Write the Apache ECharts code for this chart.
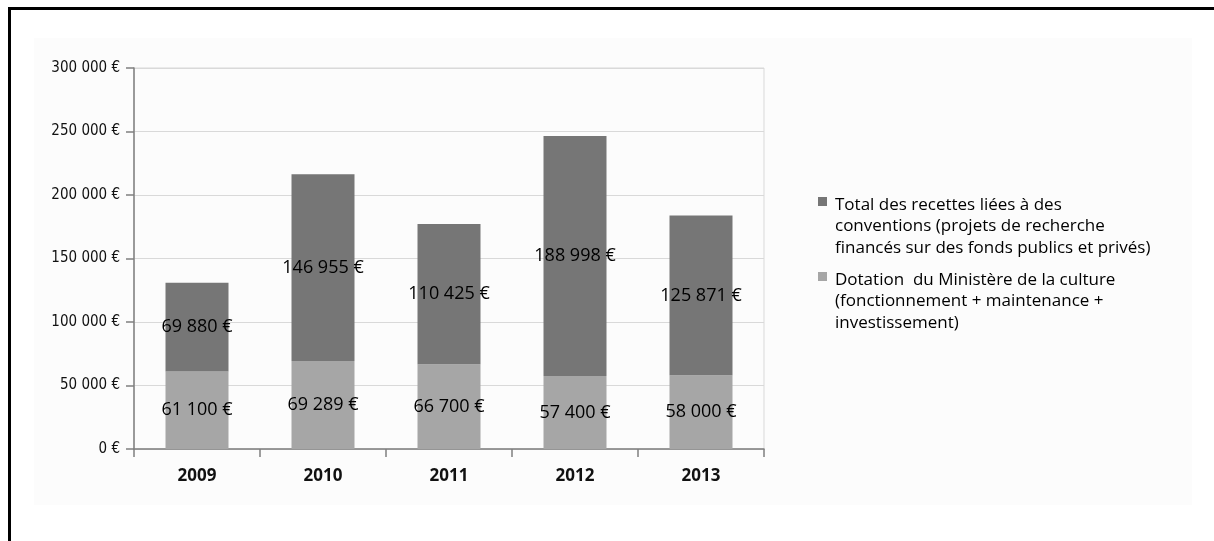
<!DOCTYPE html>
<html>
<head>
<meta charset="utf-8">
<script src="https://cdn.jsdelivr.net/npm/echarts@6/dist/echarts.min.js"></script>
<style>
  html, body { margin: 0; padding: 0; background: #fff; }
  #chart { width: 1214px; height: 541px; }
</style>
</head>
<body>
<div id="chart"></div>
<script>
// data
const years = ['2009', '2010', '2011', '2012', '2013'];
const dotation = [61100, 69289, 66700, 57400, 58000];
const conventions = [69880, 146955, 110425, 188998, 125871];
const legendNames = [
    'Total des recettes liées à des\nconventions (projets de recherche\nfinancés sur des fonds publics et privés)',
    'Dotation  du Ministère de la culture\n(fonctionnement + maintenance +\ninvestissement)'
];
const colors = ['#767676', '#a6a6a6'];

function euro(v) {
    return String(v).replace(/\B(?=(\d{3})+(?!\d))/g, ' ') + ' €';
}

const font = '"Open Sans", "DejaVu Sans", sans-serif';
const chart = echarts.init(document.getElementById('chart'));

const barLabel = {
    show: true,
    position: 'inside',
    color: '#000',
    fontFamily: font,
    fontSize: 18,
    formatter: p => euro(p.value)
};

// legend drawn by hand so the marker sits on the first line
const legendGraphics = [];
const legendTop = [197, 272];
legendNames.forEach((name, i) => {
    legendGraphics.push({
        type: 'rect',
        shape: { x: 818, y: legendTop[i], width: 9, height: 9 },
        style: { fill: colors[i] }
    });
    legendGraphics.push({
        type: 'text',
        x: 835,
        y: legendTop[i] - 3,
        style: {
            text: name,
            fill: '#000',
            font: '17px ' + font,
            lineHeight: 21.5
        }
    });
});

chart.setOption({
    animation: false,
    backgroundColor: '#fff',
    grid: {
        left: 134, right: 450, top: 68, bottom: 92,
        show: true,
        borderColor: '#d9d9d9',
        borderWidth: 1,
        backgroundColor: 'transparent'
    },
    xAxis: {
        type: 'category',
        data: years,
        axisLine: { lineStyle: { color: '#7f7f7f', width: 1.5 } },
        axisTick: { show: true, length: 8, lineStyle: { color: '#7f7f7f', width: 1.5 } },
        axisLabel: {
            color: '#111',
            fontFamily: font,
            fontWeight: 'bold',
            fontSize: 17,
            margin: 19
        }
    },
    yAxis: {
        type: 'value',
        min: 0,
        max: 300000,
        interval: 50000,
        axisLine: { show: true, lineStyle: { color: '#7f7f7f', width: 1.5 } },
        axisTick: { show: true, length: 8, lineStyle: { color: '#7f7f7f', width: 1.5 } },
        splitLine: { lineStyle: { color: '#d9d9d9' } },
        axisLabel: {
            color: '#111',
            fontFamily: '"DejaVu Sans Condensed", "DejaVu Sans", sans-serif',
            fontSize: 15,
            margin: 14,
            formatter: v => euro(v)
        }
    },
    series: [
        {
            name: legendNames[1],
            type: 'bar',
            stack: 'total',
            data: dotation,
            barWidth: '50%',
            itemStyle: { color: colors[1] },
            label: barLabel
        },
        {
            name: legendNames[0],
            type: 'bar',
            stack: 'total',
            data: conventions,
            barWidth: '50%',
            itemStyle: { color: colors[0] },
            label: barLabel
        }
    ],
    graphic: [
        {
            type: 'rect',
            z: -10,
            silent: true,
            shape: { x: 34, y: 38, width: 1158, height: 467 },
            style: { fill: '#fcfcfc' }
        },
        {
            type: 'rect',
            silent: true,
            shape: { x: 9.5, y: 8.5, width: 1400, height: 800 },
            style: { fill: 'none', stroke: '#000', lineWidth: 3 }
        },
        {
            type: 'group',
            children: legendGraphics
        }
    ]
});
</script>
</body>
</html>
